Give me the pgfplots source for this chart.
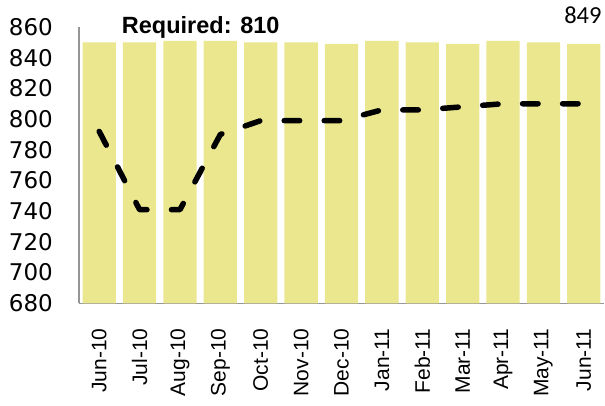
\documentclass[border=0pt]{standalone}
\usepackage{pgfplots}
\pgfplotsset{compat=1.18}
\usepackage{fontspec}
\setmainfont{Liberation Sans}
\newfontfamily\tickfont{DejaVu Sans}
\newfontfamily\notefont{Carlito}
\definecolor{barfill}{RGB}{234,231,142}
\definecolor{axisgray}{RGB}{150,150,150}

\pgfplotstableread{
x month  act  req
0  Jun-10 850 792
1  Jul-10 850 741
2  Aug-10 851 741
3  Sep-10 851 790
4  Oct-10 850 799
5  Nov-10 850 799
6  Dec-10 849 799
7  Jan-11 851 806
8  Feb-11 850 806
9  Mar-11 849 808
10 Apr-11 851 810
11 May-11 850 810
12 Jun-11 849 810
}\data

\begin{document}
\begin{tikzpicture}
\path[use as bounding box] (0,0) rectangle (605pt,405pt);
\begin{axis}[
    at={(79pt,101.7pt)}, anchor=south west,
    scale only axis, width=525pt, height=276.3pt,
    xmin=-0.5, xmax=12.5, ymin=680, ymax=860,
    ytick={680,700,...,860},
    xtick=data, xticklabels from table={\data}{month},
    axis x line*=bottom, axis y line*=left,
    axis line style={axisgray, line width=1.3pt, -},
    major tick length=0pt,
    yticklabel style={font=\tickfont\fontsize{23}{23}\selectfont, anchor=east, inner sep=0pt, xshift=-26pt},
    xticklabel style={font=\fontsize{21}{21}\selectfont, rotate=90, anchor=east, inner sep=0pt, xshift=-25pt},
    /pgf/number format/assume math mode=true,
    clip=true,
]
\addplot[ybar, bar width=33.3pt, fill=barfill, draw=none] table[x=x, y=act] {\data};
\addplot[black, line width=5.5pt, line cap=round, line join=round,
    dash pattern=on 15.5pt off 24.5pt, mark=none] table[x=x, y=req] {\data};
\end{axis}
\node[anchor=base west, inner sep=0pt, font=\bfseries\fontsize{23.5}{23.5}\selectfont] at (121.7pt,371.7pt) {Required: 810};
\node[anchor=base east, inner sep=0pt, font=\notefont\fontsize{24.5}{24.5}\selectfont] at (601.7pt,381.7pt) {849};
\end{tikzpicture}
\end{document}
